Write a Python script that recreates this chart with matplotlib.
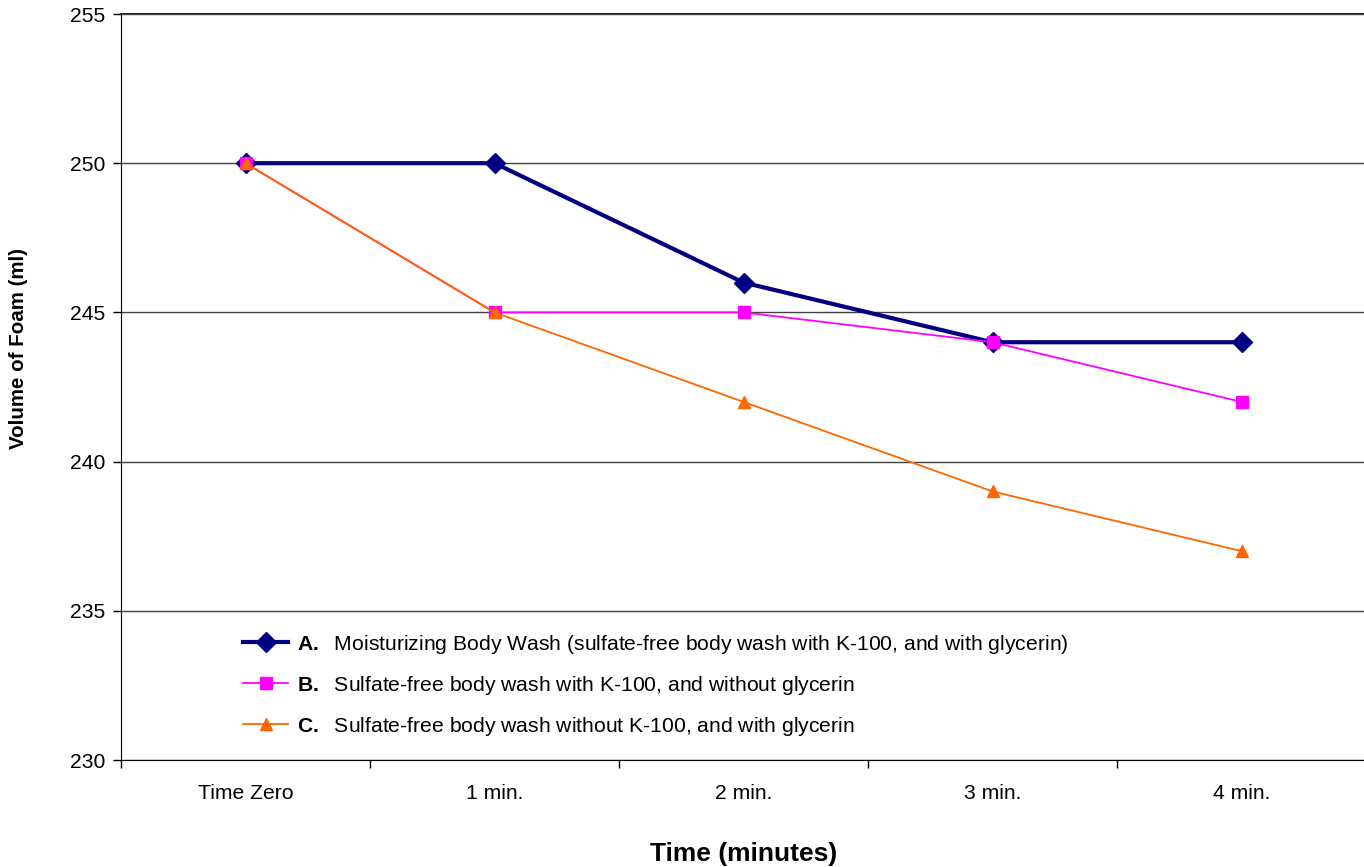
import matplotlib
matplotlib.use("Agg")
import matplotlib.pyplot as plt

plt.rcParams['font.family'] = ['Liberation Sans', 'DejaVu Sans']
plt.rcParams['mathtext.fontset'] = 'custom'
plt.rcParams['mathtext.rm'] = 'Liberation Sans'
plt.rcParams['mathtext.bf'] = 'Liberation Sans:bold'

categories = ["Time Zero", "1 min.", "2 min.", "3 min.", "4 min."]
series_a = [250, 250, 246, 244, 244]
series_b = [250, 245, 245, 244, 242]
series_c = [250, 245, 242, 239, 237]
labels = [
    r"$\mathbf{A.}$  Moisturizing Body Wash (sulfate-free body wash with K-100, and with glycerin)",
    r"$\mathbf{B.}$  Sulfate-free body wash with K-100, and without glycerin",
    r"$\mathbf{C.}$  Sulfate-free body wash without K-100, and with glycerin",
]

fig = plt.figure(figsize=(13.64, 8.67), dpi=100)
ax = fig.add_axes([121/1364, 1 - 760/867, 1245/1364, (760-14)/867])

x = list(range(len(categories)))
la, = ax.plot(x, series_a, color='#000080', lw=3, marker='D', ms=10, zorder=3, label=labels[0])
lb, = ax.plot(x, series_b, color='#FF00FF', lw=1.3, marker='s', ms=8, zorder=4, label=labels[1])
lc, = ax.plot(x, series_c, color='#FF6600', lw=1.3, marker='^', ms=8, zorder=5, label=labels[2])

ax.set_xlim(-0.5, len(categories) - 0.5)
ax.set_ylim(230, 255)
ax.set_yticks(range(230, 256, 5))
ax.set_xticks(x)
ax.set_xticklabels(categories)
ax.set_xticks([i - 0.5 for i in range(len(categories) + 1)], minor=True)
ax.tick_params(axis='x', which='major', length=0, pad=17, labelsize=15.2)
ax.tick_params(axis='x', which='minor', length=6, width=1, direction='out')
ax.tick_params(axis='y', length=6, width=1, direction='out', labelsize=15.2, pad=5)

ax.grid(axis='y', color='#404040', lw=1, zorder=0)
for s in ['top', 'right']:
    ax.spines[s].set_visible(False)
ax.spines['left'].set_color('black')
ax.spines['bottom'].set_color('black')
ax.axhline(255, color='black', lw=1.2, zorder=1, clip_on=False)

ax.set_xlabel("Time (minutes)", fontsize=19, fontweight='bold', labelpad=28)
ax.set_ylabel("Volume of Foam (ml)", fontsize=14.8, fontweight='bold')
ax.yaxis.set_label_coords(-0.0747, 0.551)

ax.legend(handles=[la, lb, lc], loc='upper left', bbox_to_anchor=(0.0915, 0.182),
          frameon=False, fontsize=15.2, handlelength=2.1, handletextpad=0.45,
          labelspacing=0.85, borderaxespad=0)

fig.savefig("out.png", dpi=100)
